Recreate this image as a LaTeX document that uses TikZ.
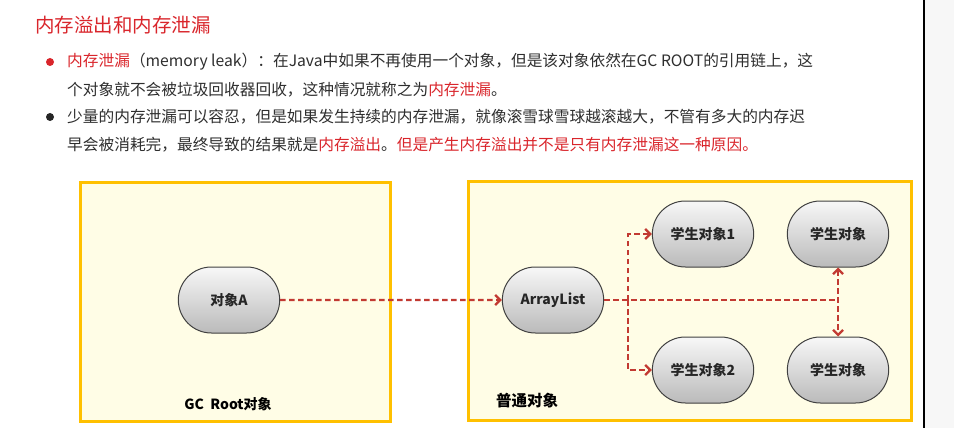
\documentclass[tikz,border=0pt]{standalone}
\usepackage{fontspec}
\setmainfont{Noto Sans CJK SC}
\usetikzlibrary{arrows.meta,shapes.misc}
\definecolor{titlered}{HTML}{D9252B}
\definecolor{bodygray}{HTML}{2E2E2E}
\definecolor{linkred}{HTML}{C23A32}
\definecolor{boxfill}{HTML}{FFFDE6}
\definecolor{boxedge}{HTML}{FFC000}
\newcommand{\hl}[1]{\textcolor{titlered}{#1}}

\begin{document}
\begin{tikzpicture}[x=1pt,y=-1pt,>={Straight Barb[length=5pt,width=10pt]},
    obj/.style={rounded rectangle,draw=black!75,line width=1pt,top color=black!3,bottom color=black!27,
      minimum width=108pt,minimum height=66pt,text=black!85,font=\bfseries\fontsize{14}{14}\selectfont},
    area/.style={draw=boxedge,line width=3pt,fill=boxfill},
    ref/.style={draw=linkred,line width=2.3pt,dash pattern=on 5.5pt off 3.5pt},
    txtline/.style={anchor=west,inner sep=0pt,text=bodygray,font=\fontsize{15.7}{15.7}\selectfont}]
  \useasboundingbox (0,0) rectangle (954,428);
  \fill[black!3] (924,0) rectangle (954,428);
  \draw[line width=1.1pt] (924,0) -- (924,428);

  % title and bullets
  \node[anchor=west,inner sep=0pt,text=titlered,font=\fontsize{19.5}{19.5}\selectfont] (title) at (35,25) {内存溢出和内存泄漏};
  \fill[titlered] (50,62) circle (4);
  \fill[black!85] (50,117) circle (4);
  \node[txtline] (l1) at (67,62) {\hl{内存泄漏}（memory leak）：在Java中如果不再使用一个对象，但是该对象依然在GC ROOT的引用链上，这};
  \node[txtline] (l2) at (67,90) {个对象就不会被垃圾回收器回收，这种情况就称之为\hl{内存泄漏}。};
  \node[txtline] (l3) at (67,117) {少量的内存泄漏可以容忍，但是如果发生持续的内存泄漏，就像滚雪球雪球越滚越大，不管有多大的内存迟};
  \node[txtline] (l4) at (67,145) {早会被消耗完，最终导致的结果就是\hl{内存溢出}。\hl{但是产生内存溢出并不是只有内存泄漏这一种原因。}};

  % the two areas
  \draw[area] (80,182) rectangle (390,421);
  \draw[area] (468,181) rectangle (911,420);
  \node[font=\bfseries\fontsize{14}{14}\selectfont] (gcroot) at (228,404) {GC\ \ Root对象};
  \node[font=\bfseries\fontsize{15.5}{15.5}\selectfont] (plain) at (527,401) {普通对象};

  % objects
  \node[obj] (a) at (229,300) {对象A};
  \node[obj] (al) at (553,300) {ArrayList};
  \node[obj] (s1) at (703,234) {学生对象1};
  \node[obj] (s2) at (703,370) {学生对象2};
  \node[obj] (s3) at (838,234) {学生对象};
  \node[obj] (s4) at (838,370) {学生对象};

  % references
  \coordinate (fork) at (628,300);
  \draw[ref,->] (a) -- (al);
  \draw[ref] (al.east) -- (al.east -| s3.south);
  \draw[ref,->] (fork) |- (s1.west);
  \draw[ref,->] (fork) |- (s2.west);
  \draw[ref,<->] (s3.south) -- (s4.north);
\end{tikzpicture}
\end{document}
